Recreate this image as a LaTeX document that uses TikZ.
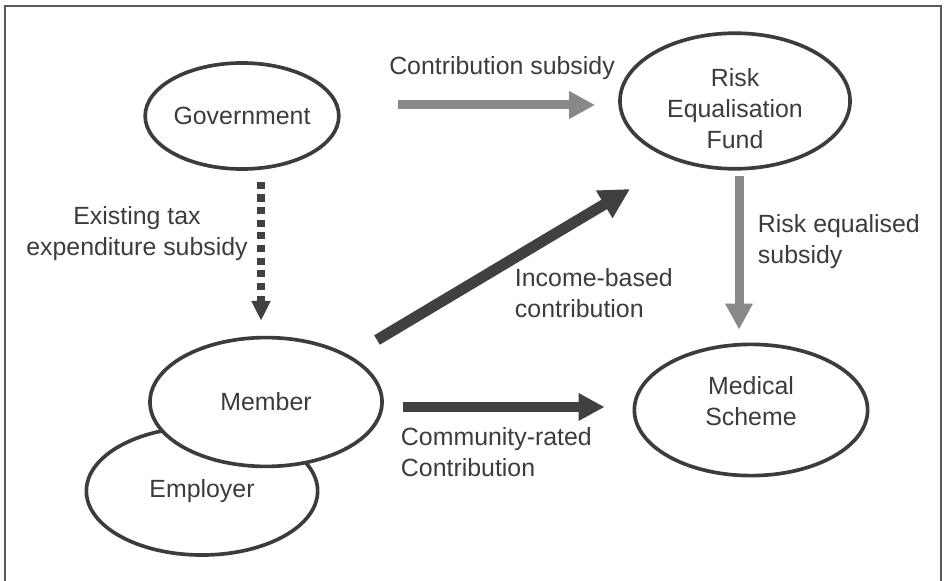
\documentclass[tikz,border=0pt]{standalone}
\usepackage{fontspec}
\setmainfont{Liberation Sans}
\usepackage{xcolor}
\usetikzlibrary{shapes.geometric,arrows.meta,calc}
\definecolor{inkgray}{HTML}{3C3C3C}
\definecolor{flowgray}{HTML}{88888B}
\definecolor{flowdark}{HTML}{404040}

\begin{document}
\begin{tikzpicture}[x=0.025cm,y=0.025cm,
	every node/.style={font=\fontsize{17.7pt}{22pt}\selectfont,text=inkgray},
	party/.style={ellipse,draw=inkgray,line width=2.6pt,fill=white,inner sep=0pt,align=center},
	subsidyflow/.style={draw=flowgray,line width=6.4pt,-{Triangle[length=0.65cm,width=0.65cm]}},
	paidflow/.style={draw=flowdark,line width=6.6pt,-{Triangle[length=0.65cm,width=0.65cm]}},
	taxflow/.style={draw=flowdark,line width=5pt,dash pattern=on 5pt off 4pt,-{Triangle[length=0.5cm,width=0.45cm]}}]
	\useasboundingbox (0,0) rectangle (944,580);
	\draw[line width=1.4pt,color=gray!70!black] (5,-2) -- (5,574) -- (941,574) -- (941,-2);

	% parties
	\node[party,minimum width=4.6cm,minimum height=2.65cm] (gov) at (242,464) {Government};
	\node[party,minimum width=5.75cm,minimum height=3.28cm] (fund) at (735,479) {{}\\[2pt]Risk\\Equalisation\\Fund};
	\node[party,minimum width=5.78cm,minimum height=3.2cm] (employer) at (202,89) {\raisebox{4pt}{Employer}};
	\node[party,minimum width=5.8cm,minimum height=3.22cm] (member) at (266,178) {Member};
	\node[party,minimum width=5.83cm,minimum height=3.28cm] (medical) at (751,170) {Medical\\Scheme\\[-9pt]};

	% flows of money
	\draw[subsidyflow] ($(gov.east)+(57,11)$) -- ($(fund.west)+(-23,-4)$);
	\draw[taxflow] ($(gov.south)+(19,-11)$) -- ($(member.north)+(-5,15)$);
	\draw[paidflow,line width=7.8pt,-{Triangle[length=0.75cm,width=0.75cm]}] ($(member)+(111,62)$) -- ($(fund)+(-105,-88)$);
	\draw[paidflow] ($(member.east)+(19,-5)$) -- ($(medical.west)+(-28,3)$);
	\draw[subsidyflow] ($(fund.south)+(4,-5)$) -- ($(medical.north)+(-12,13)$);

	% flow labels
	\node (lcontrib) at (502,512) {Contribution subsidy};
	\node[align=center] (ltax) at (137,346) {Existing tax\\expenditure subsidy};
	\node[anchor=west,align=left] (lincome) at (510,287) {Income-based\\contribution};
	\node[anchor=west,align=left] (lcommunity) at (396,128) {Community-rated\\Contribution};
	\node[anchor=west,align=left] (lrisk) at (753,338) {Risk equalised\\subsidy};
\end{tikzpicture}
\end{document}
